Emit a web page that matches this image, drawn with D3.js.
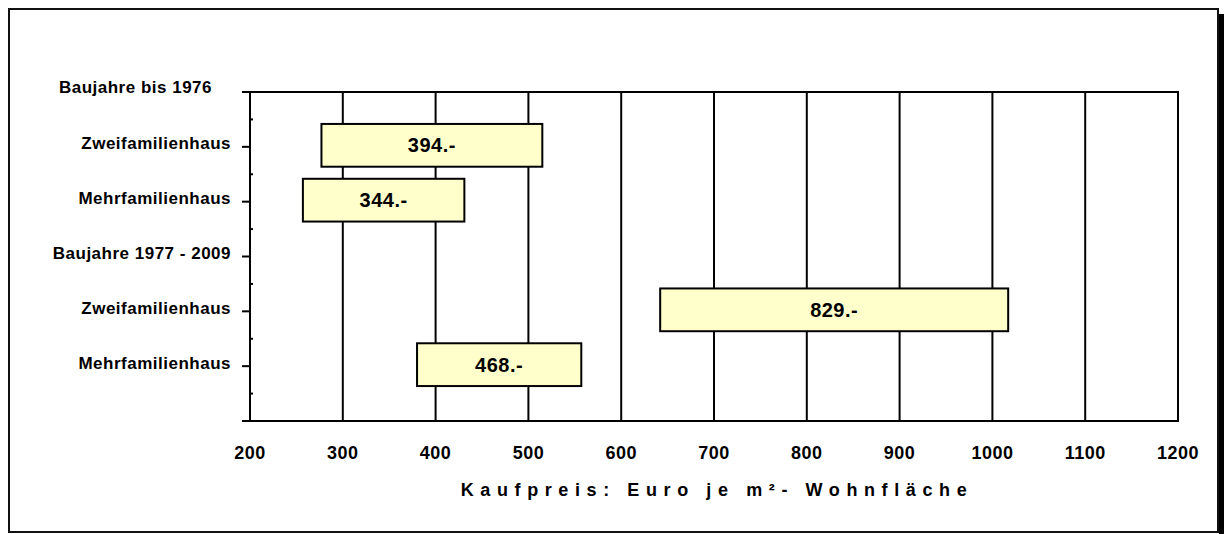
<!DOCTYPE html>
<html>
<head>
<meta charset="utf-8">
<script src="https://cdn.jsdelivr.net/npm/d3@7"></script>
<style>
  body { margin: 0; background: #fff; }
  text { font-family: "Liberation Sans", Arial, sans-serif; font-weight: bold; fill: #000; }
</style>
</head>
<body>
<div id="container"></div>
<script>
// rows of the y axis, top to bottom (headers have no bar)
const categories = ["Baujahre bis 1976", "Zweifamilienhaus", "Mehrfamilienhaus",
                    "Baujahre 1977 - 2009", "Zweifamilienhaus", "Mehrfamilienhaus"];

// bars: row index, low / high of the price range, average shown as label
const barRows = [1, 2, 4, 5];
const barLow  = [277, 257, 642, 380];
const barHigh = [515, 431, 1017, 557];
const barMean = [394, 344, 829, 468];

const xTicks = [200, 300, 400, 500, 600, 700, 800, 900, 1000, 1100, 1200];
const xTitle = "Kaufpreis: Euro je m²- Wohnfläche";

const width = 1224, height = 534;
const plot = { left: 250, right: 1178, top: 92, bottom: 421 };

const svg = d3.select("#container").append("svg")
  .attr("width", width)
  .attr("height", height);

// outer frame with shadow on the right
svg.append("rect")
  .attr("x", 1219).attr("y", 14).attr("width", 5).attr("height", height - 14)
  .attr("fill", "#000");
svg.append("rect")
  .attr("x", 9).attr("y", 9).attr("width", 1209).attr("height", 523)
  .attr("fill", "#fff").attr("stroke", "#111").attr("stroke-width", 2);

const x = d3.scaleLinear()
  .domain([xTicks[0], xTicks[xTicks.length - 1]])
  .range([plot.left, plot.right]);

// one slot per category, plus the empty bottom slot
const y = d3.scaleLinear()
  .domain([0, categories.length])
  .range([plot.top, plot.bottom]);
const step = y(1) - y(0);

// vertical gridlines
svg.selectAll(".grid")
  .data(xTicks.slice(1, -1))
  .join("line")
  .attr("class", "grid")
  .attr("x1", d => x(d)).attr("x2", d => x(d))
  .attr("y1", plot.top).attr("y2", plot.bottom)
  .attr("stroke", "#000").attr("stroke-width", 2);

// plot border
svg.append("rect")
  .attr("x", plot.left).attr("y", plot.top)
  .attr("width", plot.right - plot.left).attr("height", plot.bottom - plot.top)
  .attr("fill", "none").attr("stroke", "#000").attr("stroke-width", 2);

// y axis major ticks (outside) and minor ticks (inside)
svg.selectAll(".ytick")
  .data(d3.range(categories.length + 1))
  .join("line")
  .attr("class", "ytick")
  .attr("x1", plot.left - 8).attr("x2", plot.left)
  .attr("y1", d => y(d)).attr("y2", d => y(d))
  .attr("stroke", "#000").attr("stroke-width", 2);

svg.selectAll(".yminor")
  .data(d3.range(categories.length).map(d => d + 0.5))
  .join("line")
  .attr("class", "yminor")
  .attr("x1", plot.left).attr("x2", plot.left + 3)
  .attr("y1", d => y(d)).attr("y2", d => y(d))
  .attr("stroke", "#000").attr("stroke-width", 2);

// category labels
svg.selectAll(".ylabel")
  .data(categories)
  .join("text")
  .attr("class", "ylabel")
  .attr("x", (d, i) => i === 0 ? plot.left - 38 : plot.left - 19)
  .attr("y", (d, i) => y(i) + (i === 0 ? 1 : 2.5))
  .attr("text-anchor", "end")
  .style("font-size", "17px")
  .style("letter-spacing", "0.5px")
  .text(d => d);

// bars
const bars = barRows.map((r, i) => ({ row: r, low: barLow[i], high: barHigh[i], mean: barMean[i] }));
const barH = step * 0.78;

svg.selectAll(".bar")
  .data(bars)
  .join("rect")
  .attr("class", "bar")
  .attr("x", d => x(d.low))
  .attr("width", d => x(d.high) - x(d.low))
  .attr("y", d => y(d.row) - barH / 2 - 1.5)
  .attr("height", barH)
  .attr("fill", "#FFFFCC")
  .attr("stroke", "#000").attr("stroke-width", 2);

svg.selectAll(".barlabel")
  .data(bars)
  .join("text")
  .attr("class", "barlabel")
  .attr("x", d => (x(d.low) + x(d.high)) / 2)
  .attr("y", d => y(d.row) + 5.5)
  .attr("text-anchor", "middle")
  .style("font-size", "20px")
  .style("letter-spacing", "0.5px")
  .text(d => d.mean + ".-");

// x tick labels
svg.selectAll(".xlabel")
  .data(xTicks)
  .join("text")
  .attr("class", "xlabel")
  .attr("x", d => x(d))
  .attr("y", 459)
  .attr("text-anchor", "middle")
  .style("font-size", "18px")
  .style("letter-spacing", "0.5px")
  .text(d => d);

// x axis title
svg.append("text")
  .attr("x", 717)
  .attr("y", 496)
  .attr("text-anchor", "middle")
  .style("font-size", "18px")
  .style("letter-spacing", "6.6px")
  .text(xTitle);
</script>
</body>
</html>
